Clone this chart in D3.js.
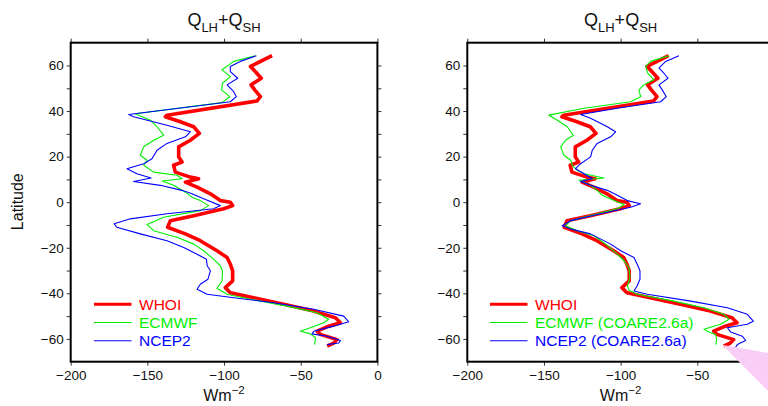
<!DOCTYPE html>
<html><head><meta charset="utf-8">
<script src="https://cdn.jsdelivr.net/npm/d3@7"></script>
<style>body{margin:0;background:#fff}svg{display:block}text{font-family:"Liberation Sans",Arial,sans-serif}</style>
</head><body><svg id="c" width="768" height="406"></svg>
<script>
// [latitude, W m^-2]
const whoi = [[64.3,-68.7],[59.6,-82.8],[58.1,-80.7],[54.4,-75.7],[51.5,-82.4],[49.3,-80],[46.3,-76.3],[44.4,-78.6],[38.2,-137.2],[37.5,-138.3],[35.3,-128.5],[33.1,-119.8],[30.2,-116.1],[27.2,-122],[24.3,-129.6],[19.9,-129.6],[17.6,-127.4],[16.2,-132.9],[13.2,-131.8],[11,-122],[10.3,-116.6],[8.8,-125.2],[6.6,-117.6],[3.7,-108.9],[0.7,-102.4],[0,-95.9],[-1.5,-94.4],[-2.9,-100.3],[-5.9,-119.8],[-8.1,-135],[-11,-136.8],[-13.9,-125.2],[-16.9,-115.5],[-21.3,-104.6],[-24.3,-98],[-27.2,-95.9],[-30.1,-94.4],[-34.5,-94.4],[-37.5,-99.2],[-39.7,-95.9],[-41.9,-80.7],[-44.8,-61.1],[-47.8,-41.5],[-50.7,-27.4],[-52.9,-24.1],[-54.4,-31.8],[-56.6,-39.3],[-58,-37.2],[-60.3,-26.3],[-61.8,-28.5],[-63.2,-32.8]];
const ecmwf = [[64.3,-79.6],[61.8,-93.7],[58.1,-101.3],[55.1,-95.9],[52.2,-101],[49.3,-101.6],[46.3,-96.3],[43.7,-101.3],[38.8,-158],[36,-148],[33.1,-143.7],[29.4,-139.4],[27.2,-145.9],[24.3,-152.4],[20.6,-154.6],[18.4,-150.2],[16.2,-152.4],[13.2,-145.9],[11.8,-130.7],[10.3,-127.4],[9.3,-140.4],[7.4,-132.9],[4.4,-125.2],[2.2,-120.9],[0.7,-115.5],[-1.5,-110],[-3.7,-115.5],[-6.6,-139.4],[-9.8,-150.2],[-12.5,-145.9],[-15.4,-130.7],[-18.4,-119.8],[-21.3,-113.3],[-25,-106.8],[-27.9,-102.4],[-30.1,-101],[-34.5,-101.3],[-37.8,-104.6],[-40.4,-98],[-42.6,-82.8],[-45.6,-58.9],[-48.5,-39.3],[-51.4,-31.8],[-52.9,-35],[-55.1,-43.7],[-56.6,-50.2],[-57.8,-43.7],[-59.5,-40.4],[-62.5,-40.9]];
const ncep2 = [[64.3,-78.9],[61.8,-89.4],[59.6,-95.9],[57.3,-95.9],[54.4,-91.1],[51.5,-98],[48.5,-93.7],[46.3,-92],[44.1,-95.9],[38.5,-162.2],[37.5,-159],[33.8,-137.2],[30.9,-122],[28.7,-125.2],[25.8,-137.2],[22.8,-143.7],[19.1,-147],[16.9,-152.4],[14.7,-163.3],[12.5,-156.8],[10.6,-147.6],[9.1,-159],[7.4,-141.6],[5.2,-127.4],[3.7,-120.9],[1.5,-113.3],[-1.5,-102.4],[-2.9,-106.8],[-5.1,-137.2],[-7.3,-161.1],[-9.5,-171.6],[-11,-170],[-13.9,-154.6],[-16.9,-137.2],[-19.9,-126.3],[-22.8,-117.6],[-25,-111.5],[-27.9,-111],[-30.1,-108.9],[-33.8,-110.5],[-36,-115.5],[-38.2,-117.6],[-40.4,-111],[-41.9,-93.7],[-44.1,-67.6],[-47,-41.5],[-50,-22],[-52.5,-18.7],[-54.4,-28.5],[-56.6,-41.5],[-57.8,-42.6],[-58.8,-32.8],[-60.7,-24.1],[-61.8,-25.2],[-62.5,-32.8]];
const ecmwfCoare = [[64.3,-68.5],[61.8,-80.5],[59.6,-83.7],[56.6,-82.3],[53.7,-78.3],[51.5,-84.8],[49.3,-88.1],[46.3,-87],[44.1,-93.5],[41.2,-123.9],[38.2,-146.8],[36,-141.3],[33.1,-134.8],[29.4,-130.9],[27.2,-135.9],[24.3,-139.1],[20.6,-137],[18.4,-132.6],[16.2,-131.5],[14,-128.3],[12.5,-123.9],[10.6,-110.9],[9.6,-127.2],[7.4,-119.6],[5.2,-115.3],[3,-112],[0.7,-104.4],[-1,-97.8],[-2.9,-102.2],[-5.9,-119.6],[-8.1,-132.6],[-10.3,-135.9],[-12.5,-128.3],[-14.7,-117.4],[-18.4,-109.8],[-22.8,-102.2],[-25.7,-97.8],[-28.7,-94.6],[-33.1,-93.9],[-36.7,-95.6],[-38.6,-94.6],[-40.4,-89.2],[-43.4,-65.2],[-46.3,-45.7],[-49.2,-32.6],[-51.4,-29.4],[-53.6,-34.8],[-55.8,-45.7],[-57,-42.4],[-58.1,-38],[-60.3,-37.4],[-62.5,-38]];
const ncep2Coare = [[64.3,-62],[61.8,-70.7],[58.8,-75],[56.6,-71.8],[54.4,-69.1],[51.5,-75],[49.3,-72.9],[46.3,-70.2],[44.1,-73.9],[41.2,-102.2],[38.5,-126.1],[36.8,-119.6],[33.1,-108.7],[30.9,-103.3],[28.7,-106.5],[25.8,-115.3],[22.8,-118.5],[19.9,-119.6],[16.9,-126.1],[14.7,-129.4],[12.5,-123.9],[10.3,-118.5],[9.1,-126.1],[7.4,-119.6],[5.2,-108.7],[3,-102.2],[0.7,-95.7],[-0.7,-87],[-2.2,-93.5],[-5.1,-113],[-8.1,-132.6],[-10.3,-138.1],[-11.8,-132.6],[-13.9,-119.6],[-18.4,-106.5],[-21.3,-100],[-24.3,-91.3],[-27.2,-89.2],[-30.1,-87.4],[-33.8,-87.4],[-36.7,-89.2],[-39,-91.3],[-40.4,-82.6],[-43.4,-54.3],[-46.3,-30.4],[-49.2,-17.4],[-52.2,-13.5],[-53.6,-17.4],[-55.1,-30.4],[-57,-28.2],[-58.8,-20.7],[-60.7,-18.5],[-62.5,-23.9],[-63.6,-25]];
const xTicks = [-200,-150,-100,-50,0];
const yTicks = [-60,-40,-20,0,20,40,60];
const yMinor = [-60,-50,-40,-30,-20,-10,0,10,20,30,40,50,60];
const leftLegend = ["WHOI","ECMWF","NCEP2"];
const rightLegend = ["WHOI","ECMWF (COARE2.6a)","NCEP2 (COARE2.6a)"];
const colors = ["#ff0000","#00f000","#0000ff"];
const widths = [3.6,1.1,1.1];

const svg = d3.select("#c");
const yTop = 42.7, yBot = 361.7;
const W = 768;
const y = d3.scaleLinear().domain([-70,70]).range([yBot, yTop]);
const fmt = d => d < 0 ? "\u2212" + (-d) : String(d);

function panel(x0, series, labels, legX) {
  const x = d3.scaleLinear().domain([-200,0]).range([x0, x0+306.7]);
  const g = svg.append("g");
  const line = d3.line().x(d=>x(d[1])).y(d=>y(d[0]));
  series.forEach((s,i)=>{
    g.append("path").datum(s).attr("d",line).attr("fill","none")
      .attr("stroke",colors[i]).attr("stroke-width",widths[i]).attr("stroke-linejoin","round");
  });
  const ax = svg.append("g");
  const lft = ax.append("g").attr("transform",`translate(${x0},0)`)
    .call(d3.axisLeft(y).tickValues(yMinor).tickSize(4).tickFormat(d=>yTicks.includes(d)?fmt(d):""));
  lft.selectAll(".tick text").attr("x",-7);
  ax.append("g").attr("transform",`translate(${x0+306.7},0)`)
    .call(d3.axisRight(y).tickValues(yMinor).tickSize(4).tickFormat(""));
  const visibleX = xTicks.filter(v => x(v) + 6 < W);
  const bt = ax.append("g").attr("transform",`translate(0,${yBot})`)
    .call(d3.axisBottom(x).tickValues(visibleX).tickSize(4).tickFormat(fmt));
  bt.selectAll(".tick text").attr("y",9);
  ax.append("g").attr("transform",`translate(0,${yTop})`)
    .call(d3.axisTop(x).tickValues(xTicks).tickSize(4).tickFormat(""));
  ax.selectAll(".domain").remove();
  ax.selectAll("text").attr("font-size",13.5).attr("fill","#111").style("font-family","'Liberation Sans',Arial,sans-serif");
  ax.selectAll(".tick line").attr("stroke","#333");
  svg.append("rect").attr("x",x0).attr("y",yTop).attr("width",306.7).attr("height",yBot-yTop)
    .attr("fill","none").attr("stroke","#000").attr("stroke-width",2);
  const t = svg.append("text").attr("x",x0+153.3).attr("y",26).attr("text-anchor","middle").attr("font-size",18).attr("fill","#111");
  t.append("tspan").text("Q");
  t.append("tspan").text("LH").attr("font-size",13).attr("dy",6);
  t.append("tspan").text("+").attr("dy",-6);
  t.append("tspan").text("Q");
  t.append("tspan").text("SH").attr("font-size",13).attr("dy",6);
  const xl = svg.append("text").attr("x",x0+153.3).attr("y",401).attr("text-anchor","middle").attr("font-size",16).attr("fill","#111");
  xl.append("tspan").text("Wm");
  xl.append("tspan").text("\u22122").attr("font-size",11.5).attr("dy",-7.5);
  labels.forEach((lab,i)=>{
    const ly = 304.3 + i*18.2;
    svg.append("line").attr("x1",legX).attr("x2",legX+37.5).attr("y1",ly).attr("y2",ly)
      .attr("stroke",colors[i]).attr("stroke-width",i===0?3:1.1);
    svg.append("text").attr("x",legX+45).attr("y",ly+5.2).attr("font-size",15.5).attr("fill",colors[i]).text(lab);
  });
}
panel(70.7, [whoi, ecmwf, ncep2], leftLegend, 94);
panel(467.3, [whoi, ecmwfCoare, ncep2Coare], rightLegend, 490);

svg.append("text").attr("transform","translate(23,201.7) rotate(-90)").attr("text-anchor","middle")
  .attr("font-size",16).attr("fill","#111").text("Latitude");

svg.append("polygon").attr("points","722.5,345 768,353 768,391").attr("fill","#f8cdf6");
</script></body></html>
